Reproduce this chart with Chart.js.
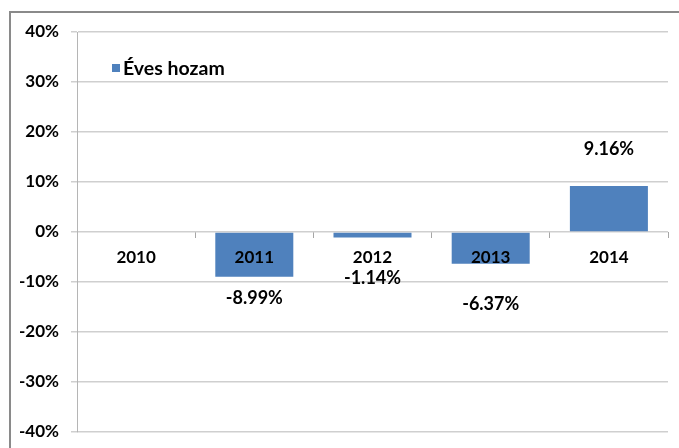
<!DOCTYPE html>
<html>
<head>
<meta charset="utf-8">
<script src="https://cdn.jsdelivr.net/npm/chart.js@4/dist/chart.umd.min.js"></script>
<style>
  html, body { margin: 0; padding: 0; background: #fff; overflow: hidden; }
  #frame { position: absolute; left: 9px; top: 11px; width: 700px; height: 460px; border-left: 2px solid #8a8a8a; border-top: 2px solid #8a8a8a; }
  #wrap { position: absolute; left: 0; top: 0; width: 679px; height: 454px; }
</style>
</head>
<body>
<div id="frame"></div>
<div id="wrap"><canvas id="chart"></canvas></div>
<script>
// chart data
const years = ['2010', '2011', '2012', '2013', '2014'];
const annualReturn = [null, -8.99, -1.14, -6.37, 9.16];
const seriesName = 'Éves hozam';
const yTicks = [-40, -30, -20, -10, 0, 10, 20, 30, 40];

const FONT = 'Lato, "Open Sans", sans-serif';

// value labels, nudged away from bar ends like in the original
const valueLabels = {
  id: 'valueLabels',
  afterDatasetsDraw(chart, args, opts) {
    const ctx = chart.ctx;
    const meta = chart.getDatasetMeta(0);
    ctx.save();
    ctx.font = 'bold 18px ' + FONT;
    ctx.fillStyle = '#000';
    ctx.textAlign = 'center';
    ctx.textBaseline = 'middle';
    meta.data.forEach((bar, i) => {
      const v = annualReturn[i];
      if (v === null) return;
      ctx.fillText(v.toFixed(2) + '%', bar.x, bar.y + opts.shift[i]);
    });
    ctx.restore();
  }
};

// legend inside plot area
const innerLegend = {
  id: 'innerLegend',
  afterDraw(chart) {
    const ctx = chart.ctx;
    const ds = chart.data.datasets[0];
    ctx.save();
    ctx.fillStyle = ds.backgroundColor;
    ctx.fillRect(112, 64, 8, 8);
    ctx.font = 'bold 19.5px ' + FONT;
    ctx.fillStyle = '#000';
    ctx.textBaseline = 'alphabetic';
    ctx.fillText(ds.label, 123, 75);
    ctx.restore();
  }
};

new Chart(document.getElementById('chart'), {
  type: 'bar',
  data: {
    labels: years,
    datasets: [{
      label: seriesName,
      data: annualReturn,
      backgroundColor: '#4f81bd',
      categoryPercentage: 1,
      barPercentage: 0.66
    }]
  },
  options: {
    responsive: true,
    maintainAspectRatio: false,
    animation: false,
    layout: { padding: { top: 32, bottom: 9, right: 11, left: 0 } },
    plugins: {
      legend: { display: false },
      tooltip: { enabled: false },
      valueLabels: { shift: [0, 21, 41, 40, -37] }
    },
    scales: {
      x: {
        position: { y: 0 },
        grid: { offset: true, drawOnChartArea: false, tickLength: 6, tickColor: '#a6a6a6' },
        border: { display: false },
        ticks: { z: 1, color: '#000', font: { family: FONT, size: 17, weight: 'bold' }, padding: 9 }
      },
      y: {
        min: -40,
        max: 40,
        afterBuildTicks: s => { s.ticks = yTicks.map(v => ({ value: v })); },
        afterFit: s => { s.width = 77; },
        grid: { color: '#cfcfcf', lineWidth: 1.5, tickLength: 6 },
        border: { color: '#b5b5b5', width: 1 },
        ticks: {
          color: '#000',
          font: { family: FONT, size: 17, weight: 'bold' },
          padding: 12,
          callback: v => v + '%'
        }
      }
    }
  },
  plugins: [valueLabels, innerLegend]
});
</script>
</body>
</html>
